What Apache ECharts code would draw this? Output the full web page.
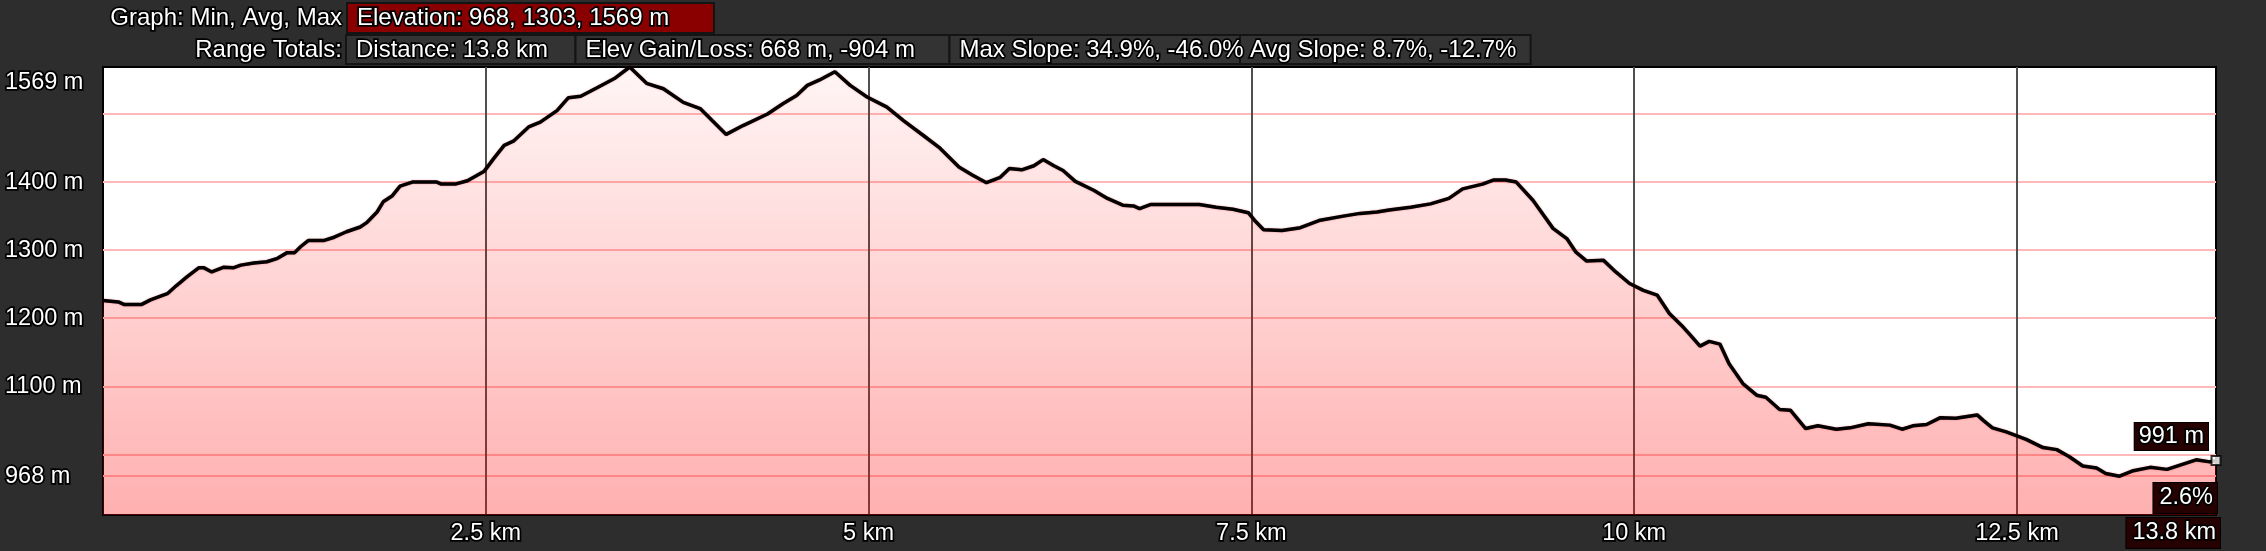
<!DOCTYPE html>
<html><head><meta charset="utf-8">
<script src="https://cdn.jsdelivr.net/npm/echarts@6/dist/echarts.min.js"></script>
<style>html,body{margin:0;padding:0;background:#2d2d2d;overflow:hidden}#c{width:2266px;height:551px}</style>
</head><body><div id="c"></div>
<script>
// ---- data ----
const distanceKm = [0.00,0.10,0.14,0.25,0.31,0.42,0.48,0.55,0.625,0.66,0.71,0.79,0.85,0.90,0.985,1.07,1.14,1.20,1.25,1.29,1.34,1.44,1.51,1.59,1.68,1.72,1.79,1.83,1.89,1.94,2.02,2.18,2.21,2.30,2.38,2.49,2.55,2.62,2.68,2.78,2.856,2.965,3.04,3.12,3.23,3.34,3.44,3.55,3.66,3.79,3.90,3.98,4.07,4.18,4.34,4.44,4.53,4.60,4.68,4.78,4.88,4.99,5.12,5.23,5.36,5.46,5.59,5.68,5.77,5.86,5.92,6.00,6.08,6.14,6.21,6.27,6.35,6.47,6.56,6.66,6.73,6.77,6.84,7.16,7.27,7.38,7.48,7.52,7.58,7.70,7.82,7.95,8.10,8.21,8.32,8.40,8.54,8.67,8.79,8.88,9.01,9.08,9.16,9.23,9.34,9.47,9.56,9.62,9.69,9.80,9.88,9.97,10.06,10.15,10.23,10.32,10.36,10.43,10.49,10.56,10.62,10.71,10.80,10.86,10.95,11.02,11.12,11.20,11.32,11.41,11.53,11.67,11.75,11.82,11.91,12.00,12.10,12.24,12.28,12.34,12.43,12.56,12.67,12.76,12.84,12.93,13.02,13.08,13.17,13.26,13.37,13.48,13.56,13.67,13.76,13.80];
const elevationM = [1226,1224,1220,1220,1227,1236,1248,1261,1274,1274,1268,1275,1274,1278,1281,1283,1288,1296,1296,1305,1314,1314,1319,1327,1334,1340,1356,1371,1380,1394,1400,1400,1397,1397,1402,1416,1434,1454,1460,1481,1488,1505,1524,1526,1539,1552,1569,1545,1537,1517,1508,1490,1470,1483,1500,1515,1527,1542,1550,1562,1542,1525,1510,1490,1468,1451,1422,1410,1399,1407,1420,1418,1424,1433,1424,1417,1401,1388,1376,1366,1365,1361,1367,1367,1363,1360,1355,1344,1330,1329,1333,1344,1350,1354,1356,1359,1363,1368,1376,1390,1397,1403,1403,1400,1373,1332,1317,1297,1284,1285,1268,1251,1241,1234,1207,1187,1177,1159,1166,1162,1133,1104,1087,1084,1066,1065,1038,1042,1037,1039,1045,1043,1037,1042,1044,1054,1053,1058,1050,1039,1033,1022,1010,1007,997,983,980,972,968,976,981,978,984,992,989,991];
const xTickValues = [2.5, 5, 7.5, 10, 12.5];
const yGridValues = [968, 1000, 1100, 1200, 1300, 1400, 1500];
const yLabelValues = [968, 1100, 1200, 1300, 1400, 1569];
const yMin = 911, yMax = 1569, xMax = 13.8;
const endPoint = [13.8, 991];
const endSlope = '2.6%';
const headerRow1Label = 'Graph: Min, Avg, Max';
const headerRow1Box = 'Elevation: 968, 1303, 1569 m';
const headerRow2Label = 'Range Totals:';
const headerRow2Boxes = ['Distance: 13.8 km', 'Elev Gain/Loss: 668 m, -904 m', 'Max Slope: 34.9%, -46.0%', 'Avg Slope: 8.7%, -12.7%'];

// ---- layout / style ----
const FONT = '"Liberation Sans", Arial, sans-serif';
const AX = 23.5;
const row2Left = [346, 575.5, 949.5, 1240];
const row2Width = [229.5, 374, 290.5, 290.6];

const outline = {color:'#fff', textBorderColor:'#000', textBorderWidth:3.5, fontFamily:FONT, fontSize:AX};
const boxLabel = Object.assign({}, outline, {backgroundColor:'#260101', borderColor:'#000', borderWidth:1, padding:[2,4,1,4]});

function hText(text, x, y, align) {
  return {type:'text', z:10, style:{text, x, y, fill:'#fff', stroke:'#000', lineWidth:3.5,
    font:'24px ' + FONT, align, textAlign:align, verticalAlign:'middle', textVerticalAlign:'middle'}};
}
const graphics = [];
graphics.push({type:'rect', z:5, shape:{x:347, y:3, width:367, height:30}, style:{fill:'#8a0000', stroke:'#141414', lineWidth:2}});
graphics.push(hText(headerRow1Label, 342, 18, 'right'));
graphics.push(hText(headerRow1Box, 357, 18, 'left'));
graphics.push(hText(headerRow2Label, 342, 50, 'right'));
headerRow2Boxes.forEach((t, i) => {
  graphics.push({type:'rect', z:5, shape:{x:row2Left[i], y:35, width:row2Width[i], height:29}, style:{fill:'#333333', stroke:'#141414', lineWidth:2}});
});
headerRow2Boxes.forEach((t, i) => {
  graphics.push(hText(t, row2Left[i] + 10, 50, 'left'));
});

const chart = echarts.init(document.getElementById('c'), null, {renderer:'canvas'});
chart.setOption({
  backgroundColor:'#2d2d2d',
  animation:false,
  grid:{left:103, right:50, top:67, bottom:36, show:true, backgroundColor:'#ffffff', borderColor:'#000', borderWidth:2, outerBoundsMode:'none'},
  xAxis:{type:'value', min:0, max:xMax,
    axisLine:{show:true, onZero:false, lineStyle:{color:'#000', width:2}},
    axisTick:{show:false, customValues:xTickValues},
    splitLine:{show:true, lineStyle:{color:'#4f4f4f', width:2}},
    axisLabel:Object.assign({}, outline, {customValues:xTickValues, margin:7, formatter:v => v + ' km'})
  },
  yAxis:{type:'value', min:yMin, max:yMax,
    axisLine:{show:false}, axisTick:{show:false, customValues:yGridValues},
    splitLine:{show:true, lineStyle:{color:'#ffb9b9', width:2}},
    axisLabel:Object.assign({}, outline, {customValues:yLabelValues, align:'left', margin:98,
      formatter:v => v === yMax ? '{t|' + v + ' m}' : v + ' m',
      rich:{t:Object.assign({}, outline, {padding:[32,0,0,0]})}})
  },
  graphic:graphics,
  series:[{
    type:'line', data:distanceKm.map((d, i) => [d, elevationM[i]]),
    symbol:'none', smooth:false, z:3,
    lineStyle:{color:'#000', width:3.5, shadowColor:'rgba(200,0,0,0.5)', shadowBlur:1.5},
    areaStyle:{origin:'start', opacity:1, color:new echarts.graphic.LinearGradient(0,0,0,1,[
      {offset:0, color:'rgba(255,0,0,0.04)'}, {offset:1, color:'rgba(255,0,0,0.31)'}])},
    markPoint:{symbol:'circle', symbolSize:0, silent:true, data:[
      {coord:endPoint, label:Object.assign({}, boxLabel, {show:true, position:'left', distance:8, offset:[0,-24], formatter:endPoint[1] + ' m'})},
      {coord:[endPoint[0], yMin], label:Object.assign({}, boxLabel, {show:true, position:'left', distance:-1, offset:[0,-17], padding:[3,4,3,6], formatter:endSlope})},
      {coord:[endPoint[0], yMin], label:Object.assign({}, boxLabel, {show:true, position:'left', distance:-4, offset:[0,18], padding:[3,4,3,6], formatter:xMax + ' km'})}
    ]}
  },{
    type:'scatter', data:[endPoint], symbol:'rect', symbolSize:9, z:4,
    itemStyle:{color:'#ffffff', borderColor:'#000', borderWidth:2}
  }]
});
</script></body></html>
